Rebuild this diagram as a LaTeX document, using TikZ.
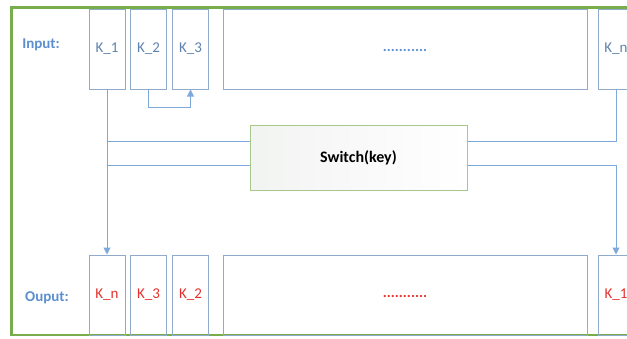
\documentclass[tikz,border=0pt]{standalone}
\usepackage{fontspec}
\setmainfont{Carlito}
\usetikzlibrary{arrows.meta}
\definecolor{boxc}{HTML}{8FAACB}
\definecolor{linec}{HTML}{7EAADB}
\definecolor{framec}{HTML}{77AE4B}
\definecolor{inblue}{HTML}{5B8FCF}
\definecolor{kblue}{HTML}{5E82AE}
\definecolor{kred}{HTML}{E4302C}
\definecolor{swb}{HTML}{A6C98A}
\tikzset{
  kbox/.style={draw=boxc, line width=1pt, minimum width=36pt, minimum height=80pt, inner sep=0pt, font=\fontsize{15}{17}\selectfont},
  conn/.style={draw=linec, line width=1pt},
  tip/.style={-{Triangle[width=7pt,length=7pt]}},
  lbl/.style={font=\fontsize{15}{17}\selectfont\bfseries, text=inblue},
  dots/.style={font=\fontsize{15}{17}\selectfont\bfseries},
}
\begin{document}
\begin{tikzpicture}[x=1pt,y=-1pt]
\useasboundingbox (0,0) rectangle (627,338);
\clip (0,0) rectangle (627,338);
% frame
\draw[framec, line width=2.2pt] (11.5,7.5) rectangle (660,335);
% top row
\node[kbox, text=kblue] (t1) at (107,49) {K\_1};
\node[kbox, text=kblue] (t2) at (148.5,49) {K\_2};
\node[kbox, text=kblue] (t3) at (190.5,49) {K\_3};
\node[kbox, minimum width=364pt] (tdots) at (405,49) {};
\node[dots, text=inblue] (td) at (405,50) {...........};
\node[kbox, text=kblue, minimum width=36pt] (tn) at (616,49) {K\_n};
% bottom row
\node[kbox, text=kred] (b1) at (107,295) {K\_n};
\node[kbox, text=kred] (b2) at (148.5,295) {K\_3};
\node[kbox, text=kred] (b3) at (190.5,295) {K\_2};
\node[kbox, minimum width=364pt] (bdots) at (405,295) {};
\node[dots, text=kred] (bd) at (405,296) {...........};
\node[kbox, text=kred] (bn) at (616,295) {K\_1};
% labels
\node[lbl] (lin) at (41,45) {Input:};
\node[lbl] (lout) at (47,298) {Ouput:};
% switch
\node[draw=swb, line width=1pt, minimum width=217pt, minimum height=65pt, inner sep=0pt,
      left color=green!6!gray!10!white, right color=white,
      font=\fontsize{16}{18}\selectfont\bfseries] (sw) at (358.5,157.5) {Switch(key)};
% connectors
\coordinate (c2a) at (148.5,107);
\coordinate (c2b) at (190.5,107);
\draw[conn, tip] (t2.south) -- (c2a) -- (c2b) -- (t3.south);
\draw[conn, tip] (t1.south) -- (b1.north);
\coordinate (la) at (107,141);
\coordinate (lb) at (107,165);
\draw[conn] (la) -- (la -| sw.west);
\draw[conn] (lb) -- (lb -| sw.west);
\coordinate (ra) at (616,141);
\coordinate (rb) at (616,165);
\draw[conn] (ra -| sw.east) -- (ra) -- (tn.south);
\draw[conn, tip] (rb -| sw.east) -- (rb) -- (bn.north);
\end{tikzpicture}
\end{document}
